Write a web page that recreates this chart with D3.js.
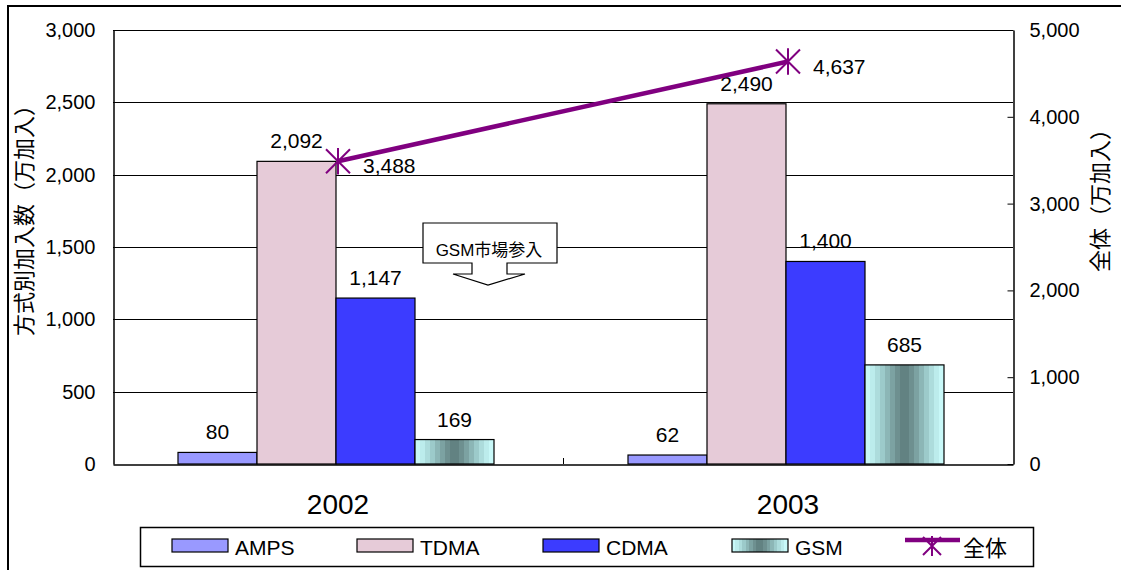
<!DOCTYPE html>
<html>
<head>
<meta charset="utf-8">
<script src="https://cdn.jsdelivr.net/npm/d3@7"></script>
<style>
  html, body { margin: 0; padding: 0; background: #fff; }
  svg { display: block; }
  text { font-family: "Liberation Sans", Arial, "Noto Sans CJK JP", sans-serif; fill: #000; }
  .cjk { font-family: "Noto Sans CJK JP", "Noto Sans CJK SC", sans-serif; }
</style>
</head>
<body>
<svg id="chart" width="1121" height="570"></svg>
<script>
// Subscribers by technology (10k subscribers)
const years = ["2002", "2003"];
const series = ["AMPS", "TDMA", "CDMA", "GSM"];
const amps = [80, 62];
const tdma = [2092, 2490];
const cdma = [1147, 1400];
const gsm = [169, 685];
// Total subscribers (right axis)
const total = [3488, 4637];
const leftTicks = [0, 500, 1000, 1500, 2000, 2500, 3000];
const rightTicks = [0, 1000, 2000, 3000, 4000, 5000];
const totalLabel = "全体";

const values = { AMPS: amps, TDMA: tdma, CDMA: cdma, GSM: gsm };
const colors = { AMPS: "#9999ff", TDMA: "#e6cbd8", CDMA: "#3c3cff", GSM: "url(#gsmFill)" };
const lineColor = "#800080";
const FONT = "Liberation Sans, Arial, sans-serif";

const svg = d3.select("#chart");
const m = { left: 113, right: 1013, top: 30, bottom: 464 };
const fmt = d3.format(",");

// GSM banded fill: light cyan at the edges, dark slate in the middle
const defs = svg.append("defs");
const bands = ["#c8f8f8", "#bcecec", "#addcdc", "#9ccaca", "#8cb6b6", "#7ca2a2", "#6e9090", "#628282"];
function bandedGradient(id) {
  const g = defs.append("linearGradient").attr("id", id)
    .attr("x1", "0%").attr("x2", "100%").attr("y1", "0%").attr("y2", "0%");
  const steps = bands.concat(bands.slice().reverse());
  const n = steps.length;
  steps.forEach((c, i) => {
    g.append("stop").attr("offset", (i / n * 100) + "%").attr("stop-color", c);
    g.append("stop").attr("offset", ((i + 1) / n * 100) + "%").attr("stop-color", c);
  });
}
bandedGradient("gsmFill");

// Outer frame
svg.append("rect").attr("x", 8).attr("y", 6).attr("width", 1130).attr("height", 580)
  .attr("fill", "none").attr("stroke", "#000").attr("stroke-width", 2);

const x0 = d3.scaleBand().domain(years).range([m.left, m.right]);
const x1 = d3.scaleBand().domain(series).range([65, x0.bandwidth() - 69]);
const yL = d3.scaleLinear().domain([0, 3000]).range([m.bottom, m.top]);
const yR = d3.scaleLinear().domain([0, 5000]).range([m.bottom, m.top]);

// Gridlines
svg.append("g")
  .selectAll("line").data(leftTicks.filter(d => d > 0)).join("line")
  .attr("x1", m.left).attr("x2", m.right)
  .attr("y1", d => Math.round(yL(d)) + 0.5).attr("y2", d => Math.round(yL(d)) + 0.5)
  .attr("stroke", "#000").attr("stroke-width", 1);

// Left axis
const axL = svg.append("g").attr("transform", `translate(${m.left + 0.5},0)`)
  .call(d3.axisLeft(yL).tickValues(leftTicks).tickFormat(fmt).tickSize(0).tickPadding(18));
axL.select(".domain").attr("stroke", "#000").attr("stroke-width", 1.5);
axL.selectAll("text").attr("font-size", 20).attr("font-family", FONT);

// Right axis, ticks pointing inward
const axR = svg.append("g").attr("transform", `translate(${m.right + 0.5},0)`)
  .call(d3.axisRight(yR).tickValues(rightTicks).tickFormat(fmt).tickSizeInner(-6).tickSizeOuter(0).tickPadding(16));
axR.select(".domain").attr("stroke", "#000").attr("stroke-width", 1.5);
axR.selectAll("line").attr("stroke", "#000");
axR.selectAll("text").attr("font-size", 20).attr("font-family", FONT);

// Bars
const groups = svg.append("g").selectAll("g").data(years).join("g")
  .attr("transform", d => `translate(${x0(d)},0)`);
groups.selectAll("rect")
  .data((yr, i) => series.map(s => ({ s, v: values[s][i] })))
  .join("rect")
  .attr("x", d => x1(d.s)).attr("width", x1.bandwidth())
  .attr("y", d => yL(d.v)).attr("height", d => yL(0) - yL(d.v))
  .attr("fill", d => colors[d.s]).attr("stroke", "#000").attr("stroke-width", 1.2);
groups.selectAll("text")
  .data((yr, i) => series.map(s => ({ s, v: values[s][i] })))
  .join("text")
  .attr("x", d => x1(d.s) + x1.bandwidth() / 2)
  .attr("y", d => yL(d.v) - 13)
  .attr("text-anchor", "middle").attr("font-size", 21)
  .text(d => fmt(d.v));

// Category axis
const axX = svg.append("g").attr("transform", `translate(0,${m.bottom + 0.5})`)
  .call(d3.axisBottom(x0).tickSize(0).tickPadding(30));
axX.select(".domain").attr("stroke", "#000").attr("stroke-width", 1.5);
axX.selectAll("text").attr("font-size", 28).attr("font-family", FONT);
svg.append("line").attr("x1", x0(years[1]) + 0.5).attr("x2", x0(years[1]) + 0.5)
  .attr("y1", m.bottom - 6).attr("y2", m.bottom)
  .attr("stroke", "#000").attr("stroke-width", 1);

// Callout: "GSM market entry"
const co = svg.append("g").attr("transform", "translate(490,0)");
co.append("path")
  .attr("d", "M-67,223 H67 V263 H17 V274 H35 L-2,285 L-37,274 H-18 V263 H-67 Z")
  .attr("fill", "#fff").attr("stroke", "#000").attr("stroke-width", 1.2);
co.append("text").attr("x", -1).attr("y", 256)
  .attr("text-anchor", "middle").attr("font-size", 17).text("GSM市場参入");

// Total line with markers
const pts = years.map((yr, i) => ({ x: x0(yr) + x0.bandwidth() / 2, y: yR(total[i]), v: total[i] }));
svg.append("path").datum(pts)
  .attr("d", d3.line().x(d => d.x).y(d => d.y))
  .attr("fill", "none").attr("stroke", lineColor).attr("stroke-width", 4.5);
function marker(sel, r) {
  sel.append("path")
    .attr("d", `M${-r},${-r}L${r},${r}M${-r},${r}L${r},${-r}M0,${-r * 1.1}V${r * 1.1}`)
    .attr("stroke", lineColor).attr("stroke-width", 2).attr("fill", "none");
}
const mk = svg.append("g").selectAll("g").data(pts).join("g")
  .attr("transform", d => `translate(${d.x},${d.y})`);
mk.each(function () { marker(d3.select(this), 12); });
mk.append("text").attr("x", 25).attr("y", 12).attr("font-size", 21).text(d => fmt(d.v));

// Axis titles
svg.append("text").attr("class", "cjk")
  .attr("transform", `translate(32,215) rotate(-90)`)
  .attr("text-anchor", "middle").attr("font-size", 22)
  .text("方式別加入数（万加入）");
svg.append("text").attr("class", "cjk")
  .attr("transform", `translate(1108,195) rotate(-90)`)
  .attr("text-anchor", "middle").attr("font-size", 22)
  .text("全体（万加入）");

// Legend
const lg = svg.append("g");
lg.append("rect").attr("x", 140.5).attr("y", 527.5).attr("width", 893).attr("height", 39)
  .attr("fill", "#fff").attr("stroke", "#000").attr("stroke-width", 1.5);
const legendX = [172, 357, 543, 732];
series.forEach((s, i) => {
  lg.append("rect").attr("x", legendX[i]).attr("y", 539).attr("width", 56).attr("height", 13)
    .attr("fill", colors[s]).attr("stroke", "#000").attr("stroke-width", 1.2);
  lg.append("text").attr("x", legendX[i] + 63).attr("y", 555).attr("font-size", 21).text(s);
});
lg.append("line").attr("x1", 905).attr("x2", 960).attr("y1", 540).attr("y2", 540)
  .attr("stroke", lineColor).attr("stroke-width", 4.5);
const lm = lg.append("g").attr("transform", "translate(932,546)");
marker(lm, 9);
lg.append("text").attr("class", "cjk").attr("x", 963).attr("y", 556).attr("font-size", 22).text(totalLabel);
</script>
</body>
</html>
